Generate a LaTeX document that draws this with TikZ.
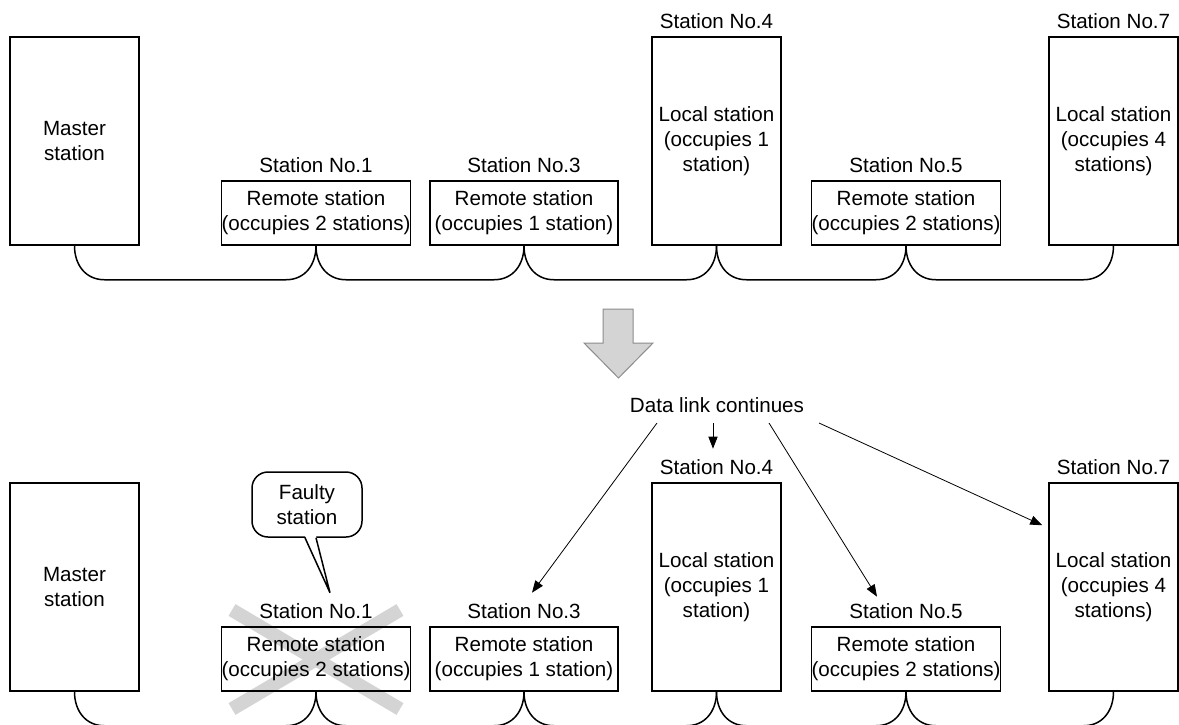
\documentclass[tikz,border=0pt]{standalone}
\usepackage{fontspec}
\setmainfont{Liberation Sans}
\usetikzlibrary{calc,arrows.meta}
\newcommand\dfont{\fontsize{10.3}{12.5}\selectfont}
\newcommand\cablelink[3][cable]{%
  \draw[#1] (#2.south) .. controls ($(#2.south)+(0,19)$) and ($(#2.south)+(11,34)$) .. ($(#2.south)+(30,34)$)
    -- ($(#3.south)+(-30,34)$) .. controls ($(#3.south)+(-11,34)$) and ($(#3.south)+(0,19)$) .. (#3.south);}
\newcommand\stationrow[2]{%
  \node[box,minimum width=64.5pt,minimum height=104pt] (#1m) at (74.5,{141+#2}) {Master\\station};
  \node[box,minimum width=94pt,minimum height=32pt] (#1s1) at (316,{213+#2}) {Remote station\\(occupies 2 stations)};
  \node[box,minimum width=94pt,minimum height=32pt] (#1s3) at (524,{213+#2}) {Remote station\\(occupies 1 station)};
  \node[box,minimum width=64.5pt,minimum height=104pt] (#1s4) at (716.5,{141+#2}) {Local station\\(occupies 1\\station)};
  \node[box,minimum width=94pt,minimum height=32pt] (#1s5) at (906,{213+#2}) {Remote station\\(occupies 2 stations)};
  \node[box,minimum width=64.5pt,minimum height=104pt] (#1s7) at (1113.5,{141+#2}) {Local station\\(occupies 4\\stations)};
  \node[lbl] (#1l1) at (316,{172+#2}) {Station No.1};
  \node[lbl] (#1l3) at (524,{172+#2}) {Station No.3};
  \node[lbl] (#1l4) at (716.5,{28+#2}) {Station No.4};
  \node[lbl] (#1l5) at (906,{172+#2}) {Station No.5};
  \node[lbl] (#1l7) at (1113.5,{28+#2}) {Station No.7};
  \cablelink{#1m}{#1s1}
  \cablelink{#1s1}{#1s3}
  \cablelink{#1s3}{#1s4}
  \cablelink{#1s4}{#1s5}
  \cablelink{#1s5}{#1s7}
}
\begin{document}
\begin{tikzpicture}[x=0.5pt,y=-0.5pt,
  box/.style={draw,line width=0.75pt,inner sep=0pt,align=center,font=\dfont},
  lbl/.style={inner sep=0pt,anchor=base,font=\dfont},
  cable/.style={line width=0.75pt},
  xmark/.style={line width=6.8pt,draw=xgray},
  link/.style={line width=0.4pt,-{Triangle[length=6pt,width=4.6pt]}},
  bigarrow/.style={fill=agray,draw=aedge,line width=0.5pt,line join=miter}]
\definecolor{xgray}{HTML}{D4D4D4}
\definecolor{agray}{HTML}{D4D4D4}
\definecolor{aedge}{HTML}{8C8C8C}
\clip (0,0) rectangle (1179,724);
% faulty station cross (behind everything)
\draw[xmark] (232,610) -- (400,709);
\draw[xmark] (400,610) -- (232,709);
% rows
\stationrow{t}{0}
\stationrow{b}{446}
% big arrow
\draw[bigarrow] (603,309) -- (633,309) -- (633,343) -- (653,343) -- (618.5,378) -- (584,343) -- (603,343) -- cycle;
% data link
\node[lbl] (dl) at (717,412) {Data link continues};
\draw[link] ($(dl.base)+(-60,11)$) -- ($(bl3.north)+(8,-10)$);
\draw[link] ($(dl.base)+(-4,11)$) -- ($(bl4.north)+(-3.5,-10)$);
\draw[link] ($(dl.base)+(52,11)$) -- ($(bl5.north)+(-29,-6)$);
\draw[link] ($(dl.base)+(102,11)$) -- ($(bs7.north west)+(-6,43)$);
% callout
\node[draw,line width=0.75pt,rounded corners=8pt,fill=white,minimum width=55pt,minimum height=32.5pt,inner sep=0pt,align=center,font=\dfont] (fs) at (307,504.5) {Faulty\\station};
\fill[white] ($(fs.south)+(-2,-2)$) -- ($(fs.south)+(23,55)$) -- ($(fs.south)+(9,-2)$) -- cycle;
\draw[line width=0.75pt,line join=miter] ($(fs.south)+(-2,0)$) -- ($(fs.south)+(23,55)$) -- ($(fs.south)+(9,0)$);
\end{tikzpicture}
\end{document}
